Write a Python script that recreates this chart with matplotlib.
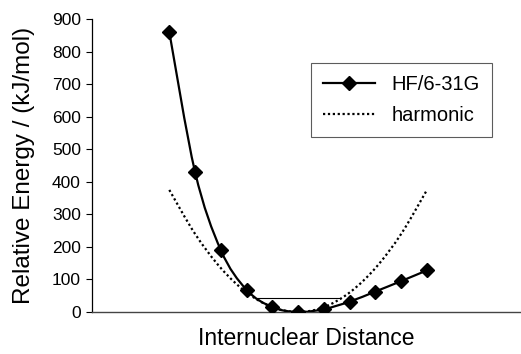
import matplotlib
matplotlib.use("Agg")
import matplotlib.pyplot as plt
from matplotlib.lines import Line2D
from matplotlib.patches import PathPatch
from matplotlib.path import Path

# point index along the internuclear distance (unitless in the original)
positions = [0, 1, 2, 3, 4, 5, 6, 7, 8, 9, 10]
hf_energy = [860, 430, 190, 68, 15, 0, 9, 32, 63, 95, 128]
harmonic_energy = [375, 240, 135, 60, 15, 0, 15, 60, 135, 240, 375]

# vibrational level drawn inside the harmonic well
level_energy = 42
level_from, level_to = 3.35, 6.68

yticks = [0, 100, 200, 300, 400, 500, 600, 700, 800, 900]


def smooth_path(xs, ys):
    """Excel-like smoothed line: Catmull-Rom segments as cubic Beziers."""
    pts = list(zip(xs, ys))
    verts = [pts[0]]
    codes = [Path.MOVETO]
    for i in range(len(pts) - 1):
        p0 = pts[i - 1] if i > 0 else pts[i]
        p1 = pts[i]
        p2 = pts[i + 1]
        p3 = pts[i + 2] if i + 2 < len(pts) else pts[i + 1]
        c1 = (p1[0] + (p2[0] - p0[0]) / 6, p1[1] + (p2[1] - p0[1]) / 6)
        c2 = (p2[0] - (p3[0] - p1[0]) / 6, p2[1] - (p3[1] - p1[1]) / 6)
        verts += [c1, c2, p2]
        codes += [Path.CURVE4] * 3
    return Path(verts, codes)


plt.rcParams['font.family'] = ['Liberation Sans', 'DejaVu Sans']

fig = plt.figure(figsize=(5.21, 3.54), dpi=100)
ax = fig.add_axes([0.1766, 0.1186, 0.8234, 0.8277])

ax.add_patch(PathPatch(smooth_path(positions, hf_energy), facecolor='none',
                       edgecolor='black', lw=1.6, zorder=4))
ax.plot(positions, hf_energy, ls='none', color='black', marker='D', ms=7, zorder=5)
ax.add_patch(PathPatch(smooth_path(positions, harmonic_energy), facecolor='none',
                       edgecolor='black', lw=1.6, ls=(0, (1, 1.2)), zorder=3))
ax.hlines(level_energy, level_from, level_to, color='black', lw=0.8, zorder=2)

ax.set_xlim(-3.0, 13.65)
ax.set_ylim(0, 900)
ax.set_yticks(yticks)
ax.set_xticks([])
ax.tick_params(axis='y', direction='out', length=4, width=0.8, labelsize=12.5, pad=4)

for side in ('top', 'right'):
    ax.spines[side].set_visible(False)
ax.spines['left'].set_linewidth(0.9)
ax.spines['bottom'].set_color('#444444')
ax.spines['bottom'].set_linewidth(1.0)

ax.set_ylabel('Relative Energy / (kJ/mol)', fontsize=17.5, labelpad=12)
ax.set_xlabel('Internuclear Distance', fontsize=16.5, labelpad=11)

handles = [
    Line2D([], [], color='black', lw=1.6, marker='D', ms=7),
    Line2D([], [], color='black', lw=1.6, ls=(0, (1, 1.2))),
]
leg = ax.legend(handles, ['HF/6-31G', 'harmonic'], loc='upper right',
                bbox_to_anchor=(0.955, 0.885), fontsize=14.5,
                frameon=True, fancybox=False, edgecolor='#333333',
                handlelength=2.6, borderpad=0.6, labelspacing=0.6)
leg.get_frame().set_linewidth(0.8)

fig.savefig('out.png', dpi=100)
